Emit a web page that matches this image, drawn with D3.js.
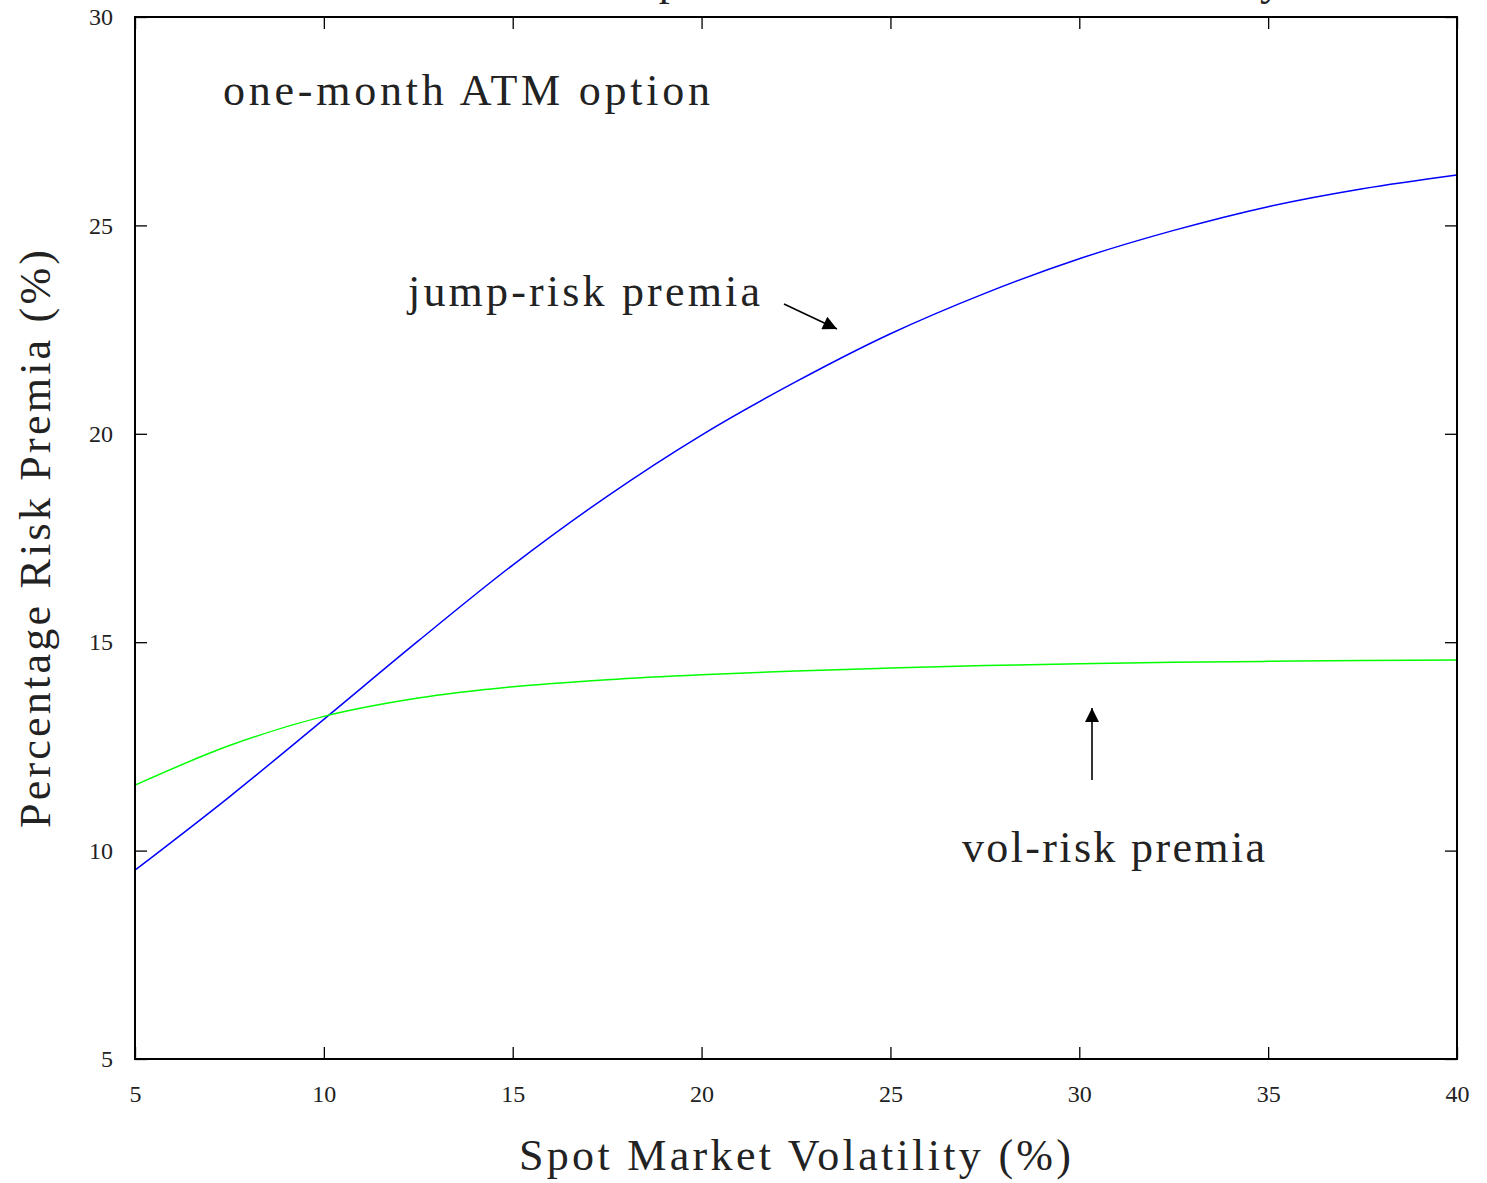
<!DOCTYPE html>
<html>
<head>
<meta charset="utf-8">
<script src="https://cdn.jsdelivr.net/npm/d3@7"></script>
<style>
  body { margin: 0; background: #fff; }
  text { font-family: 'Liberation Serif', 'DejaVu Serif', serif; fill: #222; }
</style>
</head>
<body>
<div id="chart"></div>
<script>
// values
const spotVol = [5, 7.5, 10, 12.5, 15, 17.5, 20, 22.5, 25, 27.5, 30, 32.5, 35, 37.5, 40];
const jumpPremia = [9.53, 11.29, 13.15, 15.03, 16.85, 18.5, 19.97, 21.25, 22.4, 23.37, 24.2, 24.88, 25.45, 25.88, 26.21];
const volPremia = [11.57, 12.52, 13.22, 13.66, 13.93, 14.1, 14.22, 14.31, 14.38, 14.44, 14.48, 14.52, 14.54, 14.56, 14.57];
const xTicks = [5, 10, 15, 20, 25, 30, 35, 40];
const yTicks = [5, 10, 15, 20, 25, 30];

const W = 1487, H = 1183;
const margin = { top: 17, right: 30, bottom: 124, left: 135 };
const width = W - margin.left - margin.right;
const height = H - margin.top - margin.bottom;

const svg = d3.select('#chart').append('svg')
  .attr('width', W)
  .attr('height', H);

const g = svg.append('g')
  .attr('transform', `translate(${margin.left}, ${margin.top})`);

const x = d3.scaleLinear().domain([5, 40]).range([0, width]);
const y = d3.scaleLinear().domain([5, 30]).range([height, 0]);

const line = d3.line()
  .x((d) => x(d[0]))
  .y((d) => y(d[1]))
  .curve(d3.curveMonotoneX);

g.append('path')
  .datum(d3.zip(spotVol, jumpPremia))
  .attr('fill', 'none')
  .attr('stroke', '#0000ff')
  .attr('stroke-width', 1.5)
  .attr('d', line);

g.append('path')
  .datum(d3.zip(spotVol, volPremia))
  .attr('fill', 'none')
  .attr('stroke', '#00ff00')
  .attr('stroke-width', 1.5)
  .attr('d', line);

// axes, ticks pointing inward on all four sides
const tickLen = 12;
function styleAxis(sel) {
  sel.select('.domain').remove();
  sel.selectAll('line').attr('stroke', '#000').attr('stroke-width', 1.3);
  sel.selectAll('text').style('font-size', '24px').attr('fill', '#222');
}
g.append('g')
  .attr('transform', `translate(0, ${height})`)
  .call(d3.axisBottom(x).tickValues(xTicks).tickSizeInner(-tickLen).tickSizeOuter(0).tickPadding(tickLen + 14))
  .call(styleAxis);
g.append('g')
  .call(d3.axisTop(x).tickValues(xTicks).tickSizeInner(-tickLen).tickSizeOuter(0).tickFormat(''))
  .call(styleAxis);
g.append('g')
  .call(d3.axisLeft(y).tickValues(yTicks).tickSizeInner(-tickLen).tickSizeOuter(0).tickPadding(tickLen + 10))
  .call(styleAxis);
g.append('g')
  .attr('transform', `translate(${width}, 0)`)
  .call(d3.axisRight(y).tickValues(yTicks).tickSizeInner(-tickLen).tickSizeOuter(0).tickFormat(''))
  .call(styleAxis);

g.append('rect')
  .attr('width', width)
  .attr('height', height)
  .attr('fill', 'none')
  .attr('stroke', '#000')
  .attr('stroke-width', 2);

// text helper: fix size and overall width like the TeX output
function label(parent, str, px, py, size, len, rotate) {
  const t = parent.append('text')
    .attr('x', px)
    .attr('y', py)
    .style('font-size', size + 'px')
    .text(str);
  if (len) t.attr('textLength', len).attr('lengthAdjust', 'spacing');
  if (rotate) t.attr('transform', `rotate(${rotate}, ${px}, ${py})`);
  return t;
}

// title, mostly above the top edge as in the reference
label(svg, 'The Composition of Risk Premia vs. Volatility', 499, -5, 44, 783);

label(svg, 'one-month ATM option', 223, 105, 44, 487);
label(svg, 'jump-risk premia', 408, 306, 44, 352);
label(svg, 'vol-risk premia', 962, 862, 44, 303);
label(svg, 'Spot Market Volatility (%)', 519, 1170, 44, 552);
label(svg, 'Percentage Risk Premia (%)', 50, 828, 44, 578, -90);

// arrows
svg.append('defs').append('marker')
  .attr('id', 'head')
  .attr('viewBox', '0 0 10 10')
  .attr('refX', 10)
  .attr('refY', 5)
  .attr('markerUnits', 'userSpaceOnUse')
  .attr('markerWidth', 22)
  .attr('markerHeight', 14)
  .attr('orient', 'auto')
  .append('path')
  .attr('d', 'M0,0 L10,5 L0,10 Z')
  .attr('fill', '#000');

svg.append('line')
  .attr('x1', 784).attr('y1', 304)
  .attr('x2', 837).attr('y2', 329)
  .attr('stroke', '#000').attr('stroke-width', 1.6)
  .attr('marker-end', 'url(#head)');

svg.append('line')
  .attr('x1', 1092).attr('y1', 780)
  .attr('x2', 1092).attr('y2', 708)
  .attr('stroke', '#000').attr('stroke-width', 1.6)
  .attr('marker-end', 'url(#head)');
</script>
</body>
</html>
